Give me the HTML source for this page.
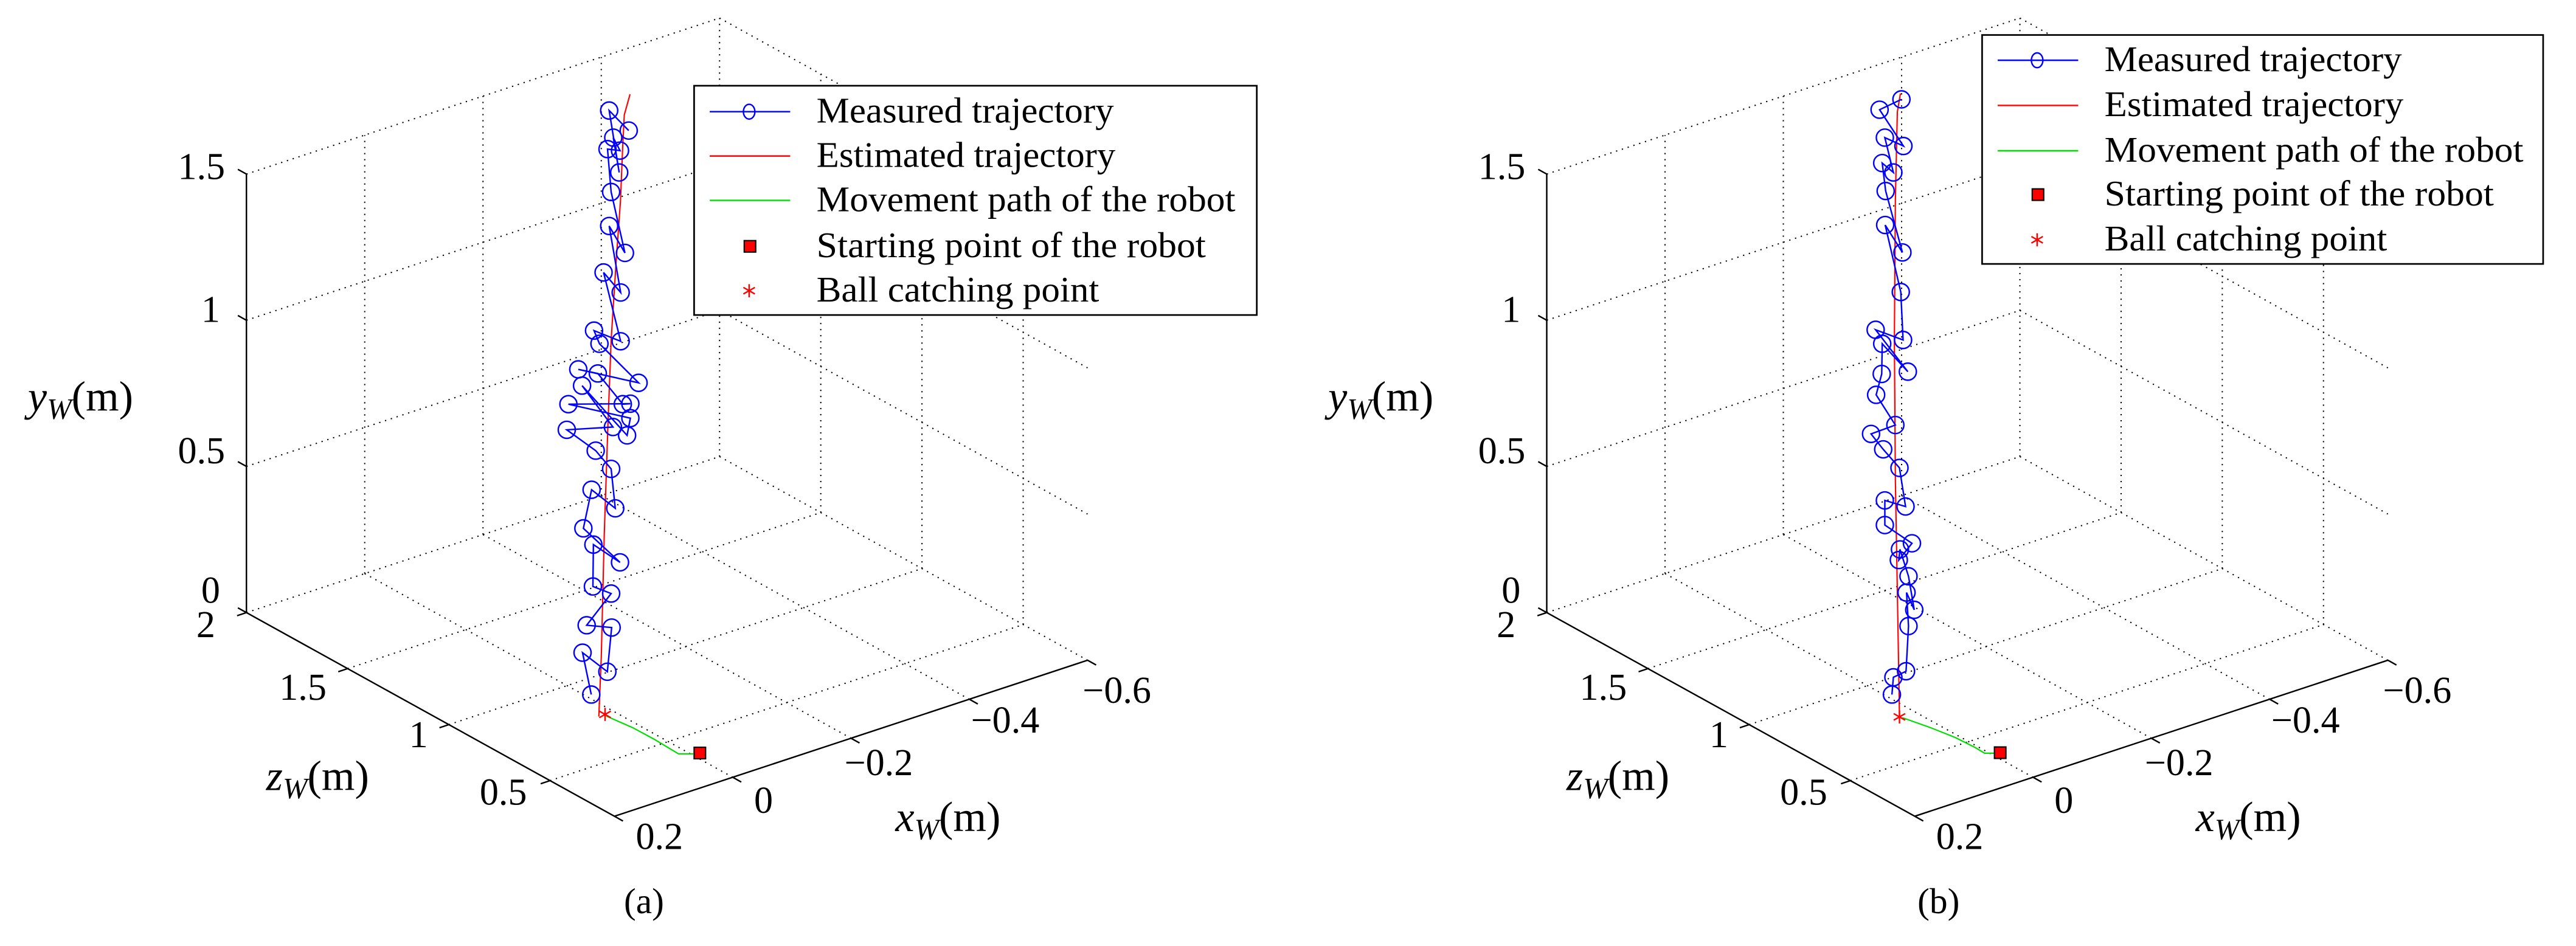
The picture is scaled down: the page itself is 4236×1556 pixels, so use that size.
<!DOCTYPE html>
<html><head><meta charset="utf-8"><style>
html,body{margin:0;padding:0;background:#fff;}
svg{display:block;font-family:'Liberation Serif','Times New Roman',serif;}
svg text{font-family:'Liberation Serif','Times New Roman',serif;fill:#000;}
.g{stroke:#000;stroke-width:0.75;stroke-dasharray:0.8 2.9;fill:none;}
.ax{stroke:#000;stroke-width:0.9;fill:none;}
.ml{fill:none;stroke:#0000ff;stroke-width:0.9;}
.mc{fill:none;stroke:#0000ff;stroke-width:0.9;}
.red{fill:none;stroke:#ff0000;stroke-width:0.8;}
.grn{fill:none;stroke:#00dd00;stroke-width:0.8;}
</style></head><body>
<svg width="4236" height="1556" viewBox="0 0 1568 576" preserveAspectRatio="none" xmlns="http://www.w3.org/2000/svg" font-family="Liberation Serif, serif">
<g id="axes">
  <path class="g" d="M150,373L438,278 M211.6,407.1L499.6,312.1 M273.2,441.2L561.2,346.2 M334.8,475.3L622.8,380.3
   M222,349.25L446,473.25 M294,325.5L518,449.5 M366,301.75L590,425.75 M438,278L662,402"/>
  <path class="g" d="M222,349.25V82.25 M294,325.5V58.5 M366,301.75V34.75 M438,278V11
   M150,284L438,189 M150,195L438,100 M150,106L438,11"/>
  <path class="g" d="M499.6,312.1V45.1 M561.2,346.2V79.2 M622.8,380.3V113.3
   M438,189L662,313 M438,100L662,224 M438,11L662,135"/>
  <path class="ax" d="M150,106V373 M150,373L374,497 M374,497L662,402"/>
  <path class="ax" d="M150,106l-5.2,-2.9 M150,195l-5.2,-2.9 M150,284l-5.2,-2.9 M150,373l-5.2,-2.9
   M150,373l-5.7,1.9 M211.6,407.1l-5.7,1.9 M273.2,441.2l-5.7,1.9 M334.8,475.3l-5.7,1.9
   M446,473.25l5.2,2.9 M518,449.5l5.2,2.9 M590,425.75l5.2,2.9 M662,402l5.2,2.9 M374,497l5.2,2.9"/>
  <g font-family="Liberation Serif, serif" font-size="23">
    <text x="137" y="109" text-anchor="end">1.5</text>
    <text x="134" y="196" text-anchor="end">1</text>
    <text x="137" y="282" text-anchor="end">0.5</text>
    <text x="134" y="367" text-anchor="end">0</text>
    <text x="131" y="388" text-anchor="end">2</text>
    <text x="170" y="426">1.5</text>
    <text x="249" y="455">1</text>
    <text x="292" y="490">0.5</text>
    <text x="387" y="517">0.2</text>
    <text x="459" y="495">0</text>
    <text x="514" y="472">−0.2</text>
    <text x="591" y="446">−0.4</text>
    <text x="659" y="428">−0.6</text>
  </g>
  <g font-family="Liberation Serif, serif" font-size="26">
  <text x="17" y="250"><tspan font-style="italic">y</tspan><tspan font-style="italic" font-size="18" dy="5">W</tspan><tspan dy="-5">(m)</tspan></text>
  <text x="162" y="481"><tspan font-style="italic">z</tspan><tspan font-style="italic" font-size="18" dy="5">W</tspan><tspan dy="-5">(m)</tspan></text>
  <text x="545" y="506"><tspan font-style="italic">x</tspan><tspan font-style="italic" font-size="18" dy="5">W</tspan><tspan dy="-5">(m)</tspan></text>
  </g>
</g>

<!-- Panel (a) -->
<path class="red" d="M364.5,436.3L366,400L367.8,325.8L370,260L372,207L375,160L377.7,122L379,90L380,70L383.5,57.4"/>
<polyline class="ml" points="382.7,79.5 370.8,67.3 376.9,105.0 373.3,83.8 377.4,91.7 369.8,90.8 372.0,116.9 380.4,154.0 370.8,137.6 377.8,178.1 367.4,165.9 377.8,207.8 361.6,201.3 364.9,209.3 388.7,233.1 352.0,224.9 363.9,227.4 379.1,246.1 383.7,245.8 346.0,246.1 383.7,254.6 381.7,265.1 354.3,234.8 373.1,260.0 345.0,261.7 362.6,274.4 372.0,285.5 374.5,309.5 360.1,298.2 355.1,321.7 377.4,342.4 361.2,331.6 360.9,357.1 372.0,361.4 357.1,380.7 372.3,382.1 369.7,409.0 354.6,397.4 359.9,422.9"/>
<g class="mc">
<circle cx="370.8" cy="67.3" r="5.2"/><circle cx="382.7" cy="79.5" r="5.2"/><circle cx="373.3" cy="83.8" r="5.2"/><circle cx="369.8" cy="90.8" r="5.2"/><circle cx="377.4" cy="91.7" r="5.2"/><circle cx="376.9" cy="105.0" r="5.2"/><circle cx="372.0" cy="116.9" r="5.2"/><circle cx="370.8" cy="137.6" r="5.2"/><circle cx="380.4" cy="154.0" r="5.2"/><circle cx="367.4" cy="165.9" r="5.2"/><circle cx="377.8" cy="178.1" r="5.2"/><circle cx="361.6" cy="201.3" r="5.2"/><circle cx="377.8" cy="207.8" r="5.2"/><circle cx="364.9" cy="209.3" r="5.2"/><circle cx="352.0" cy="224.9" r="5.2"/><circle cx="363.9" cy="227.4" r="5.2"/><circle cx="388.7" cy="233.1" r="5.2"/><circle cx="354.3" cy="234.8" r="5.2"/><circle cx="379.1" cy="246.1" r="5.2"/><circle cx="383.7" cy="245.8" r="5.2"/><circle cx="346.0" cy="246.1" r="5.2"/><circle cx="383.7" cy="254.6" r="5.2"/><circle cx="373.1" cy="260.0" r="5.2"/><circle cx="345.0" cy="261.7" r="5.2"/><circle cx="381.7" cy="265.1" r="5.2"/><circle cx="362.6" cy="274.4" r="5.2"/><circle cx="372.0" cy="285.5" r="5.2"/><circle cx="360.1" cy="298.2" r="5.2"/><circle cx="374.5" cy="309.5" r="5.2"/><circle cx="355.1" cy="321.7" r="5.2"/><circle cx="361.2" cy="331.6" r="5.2"/><circle cx="377.4" cy="342.4" r="5.2"/><circle cx="360.9" cy="357.1" r="5.2"/><circle cx="372.0" cy="361.4" r="5.2"/><circle cx="357.1" cy="380.7" r="5.2"/><circle cx="372.3" cy="382.1" r="5.2"/><circle cx="354.6" cy="397.4" r="5.2"/><circle cx="369.7" cy="409.0" r="5.2"/><circle cx="359.9" cy="422.9" r="5.2"/>
</g>
<path class="grn" d="M369,436L385,443L398,450L408,456L413,459L422,459"/>
<path d="M368.3,431v8 M364.8,433l7,4 M364.8,437l7,-4" stroke="#ff0000" stroke-width="0.9" fill="none"/>
<rect x="422.5" y="455" width="7" height="7" fill="#ff0000" stroke="#000" stroke-width="0.8"/>
<rect x="422.5" y="52.2" width="342.5" height="139.6" fill="#fff" stroke="#000" stroke-width="1"/>
<line x1="432" y1="68" x2="481" y2="68" stroke="#0000ff" stroke-width="0.9"/>
<ellipse cx="456" cy="68" rx="3.5" ry="4.5" fill="none" stroke="#0000ff" stroke-width="0.9"/>
<line x1="432" y1="95" x2="481" y2="95" stroke="#ff0000" stroke-width="0.9"/>
<line x1="432" y1="122" x2="481" y2="122" stroke="#00dd00" stroke-width="0.9"/>
<rect x="453" y="146.5" width="7" height="7" fill="#ff0000" stroke="#000" stroke-width="0.8"/>
<path d="M456,173v8 M452.5,175l7,4 M452.5,179l7,-4" stroke="#ff0000" stroke-width="0.9" fill="none"/>
<g font-family="Liberation Serif, serif" font-size="22">
<text x="497" y="74.6" textLength="181" lengthAdjust="spacingAndGlyphs">Measured trajectory</text>
<text x="497" y="101.6" textLength="182" lengthAdjust="spacingAndGlyphs">Estimated trajectory</text>
<text x="497" y="128.6" textLength="255" lengthAdjust="spacingAndGlyphs">Movement path of the robot</text>
<text x="497" y="156.6" textLength="237" lengthAdjust="spacingAndGlyphs">Starting point of the robot</text>
<text x="497" y="183.6" textLength="172" lengthAdjust="spacingAndGlyphs">Ball catching point</text>
</g>
<text x="392" y="556" font-size="22" font-family="Liberation Serif, serif" text-anchor="middle">(a)</text>

<!-- Panel (b) -->
<use href="#axes" transform="translate(791.5,0)"/>
<path class="red" d="M1156.2,436.5L1155.2,377L1153.7,292L1153.1,207L1153.7,122L1154.9,68.2L1156.8,56.9"/>
<polyline class="ml" points="1157.4,60.5 1144.1,66.8 1158.6,88.9 1147.3,83.8 1152.5,105.0 1145.7,99.3 1147.8,116.3 1158.0,153.7 1147.5,137.0 1157.0,177.8 1158.4,207.0 1141.7,200.8 1161.3,226.3 1145.7,209.3 1145.4,227.7 1142.0,240.4 1153.7,258.8 1138.9,264.2 1146.3,273.6 1156.2,284.9 1159.9,308.4 1147.3,304.7 1147.3,319.7 1163.8,330.8 1155.8,341.0 1156.5,334.5 1161.7,350.9 1165.2,371.3 1160.5,360.8 1161.7,381.2 1160.2,408.7 1152.5,412.4 1151.6,422.9"/>
<g class="mc">
<circle cx="1157.4" cy="60.5" r="5.2"/><circle cx="1144.1" cy="66.8" r="5.2"/><circle cx="1147.3" cy="83.8" r="5.2"/><circle cx="1158.6" cy="88.9" r="5.2"/><circle cx="1145.7" cy="99.3" r="5.2"/><circle cx="1152.5" cy="105.0" r="5.2"/><circle cx="1147.8" cy="116.3" r="5.2"/><circle cx="1147.5" cy="137.0" r="5.2"/><circle cx="1158.0" cy="153.7" r="5.2"/><circle cx="1157.0" cy="177.8" r="5.2"/><circle cx="1141.7" cy="200.8" r="5.2"/><circle cx="1158.4" cy="207.0" r="5.2"/><circle cx="1145.7" cy="209.3" r="5.2"/><circle cx="1161.3" cy="226.3" r="5.2"/><circle cx="1145.4" cy="227.7" r="5.2"/><circle cx="1142.0" cy="240.4" r="5.2"/><circle cx="1153.7" cy="258.8" r="5.2"/><circle cx="1138.9" cy="264.2" r="5.2"/><circle cx="1146.3" cy="273.6" r="5.2"/><circle cx="1156.2" cy="284.9" r="5.2"/><circle cx="1147.3" cy="304.7" r="5.2"/><circle cx="1159.9" cy="308.4" r="5.2"/><circle cx="1147.3" cy="319.7" r="5.2"/><circle cx="1163.8" cy="330.8" r="5.2"/><circle cx="1156.5" cy="334.5" r="5.2"/><circle cx="1155.8" cy="341.0" r="5.2"/><circle cx="1161.7" cy="350.9" r="5.2"/><circle cx="1160.5" cy="360.8" r="5.2"/><circle cx="1165.2" cy="371.3" r="5.2"/><circle cx="1161.7" cy="381.2" r="5.2"/><circle cx="1160.2" cy="408.7" r="5.2"/><circle cx="1152.5" cy="412.4" r="5.2"/><circle cx="1151.6" cy="422.9" r="5.2"/>
</g>
<path class="grn" d="M1158,437L1175,443L1190,449L1202,455L1208,458.6L1214,458.6"/>
<path d="M1156.2,432.5v8 M1152.7,434.5l7,4 M1152.7,438.5l7,-4" stroke="#ff0000" stroke-width="0.9" fill="none"/>
<rect x="1214" y="454.8" width="7" height="7" fill="#ff0000" stroke="#000" stroke-width="0.8"/>
<rect x="1206.5" y="21.3" width="341.5" height="139.4" fill="#fff" stroke="#000" stroke-width="1"/>
<line x1="1216" y1="36.7" x2="1265" y2="36.7" stroke="#0000ff" stroke-width="0.9"/>
<ellipse cx="1240" cy="36.7" rx="3.5" ry="4.5" fill="none" stroke="#0000ff" stroke-width="0.9"/>
<line x1="1216" y1="64.2" x2="1265" y2="64.2" stroke="#ff0000" stroke-width="0.9"/>
<line x1="1216" y1="91.8" x2="1265" y2="91.8" stroke="#00dd00" stroke-width="0.9"/>
<rect x="1237" y="115" width="7" height="7" fill="#ff0000" stroke="#000" stroke-width="0.8"/>
<path d="M1240,142v8 M1236.5,144l7,4 M1236.5,148l7,-4" stroke="#ff0000" stroke-width="0.9" fill="none"/>
<g font-family="Liberation Serif, serif" font-size="22">
<text x="1281" y="43.3" textLength="181" lengthAdjust="spacingAndGlyphs">Measured trajectory</text>
<text x="1281" y="70.8" textLength="182" lengthAdjust="spacingAndGlyphs">Estimated trajectory</text>
<text x="1281" y="98.4" textLength="255" lengthAdjust="spacingAndGlyphs">Movement path of the robot</text>
<text x="1281" y="125.1" textLength="237" lengthAdjust="spacingAndGlyphs">Starting point of the robot</text>
<text x="1281" y="152.6" textLength="172" lengthAdjust="spacingAndGlyphs">Ball catching point</text>
</g>
<text x="1180" y="556" font-size="22" font-family="Liberation Serif, serif" text-anchor="middle">(b)</text>
</svg>
</body></html>
